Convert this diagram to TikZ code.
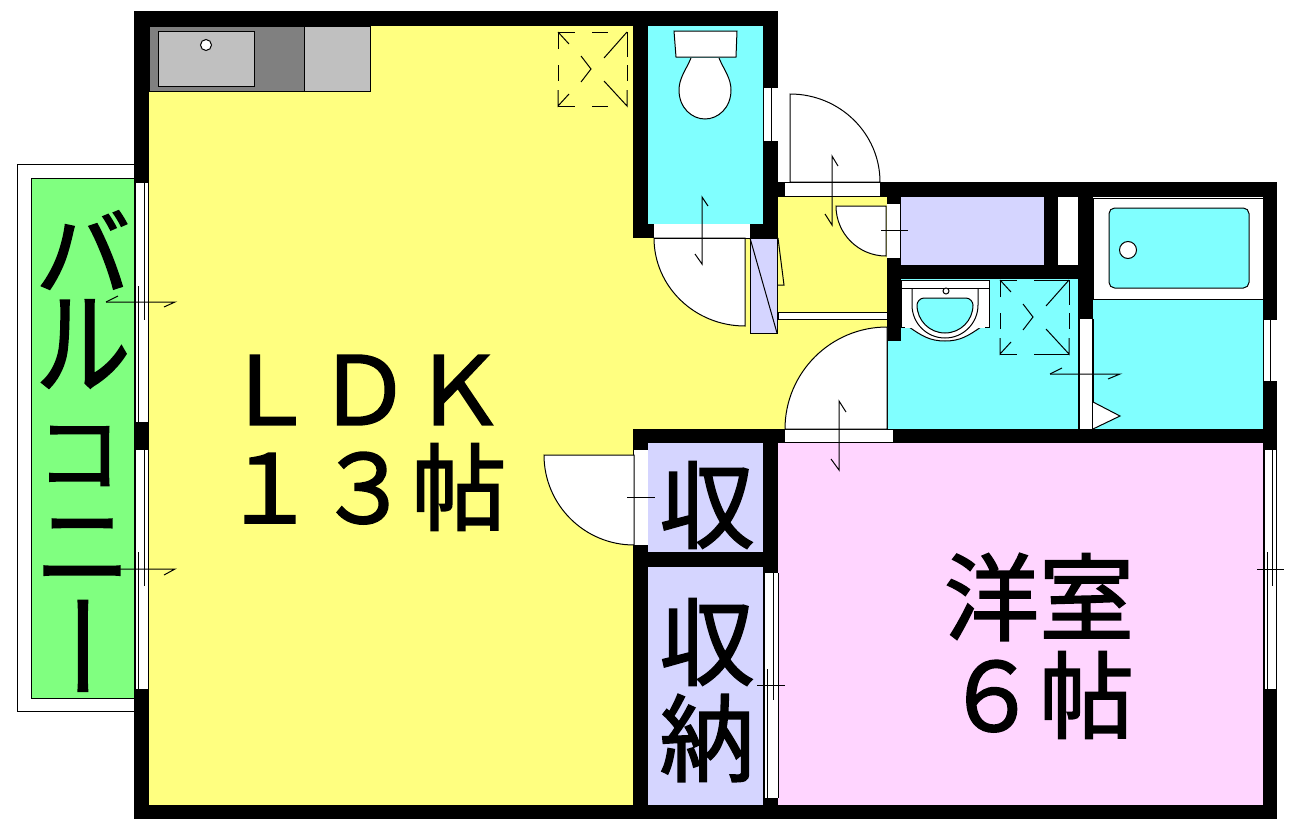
\documentclass[tikz,border=0pt]{standalone}
\usepackage{fontspec}
\newfontfamily\jpfont[FakeBold=1.8]{Noto Sans CJK JP}
\definecolor{ldkYellow}{HTML}{FFFF80}
\definecolor{wetCyan}{HTML}{80FFFF}
\definecolor{balconyGreen}{HTML}{80FF80}
\definecolor{closetBlue}{HTML}{D5D5FF}
\definecolor{roomPink}{HTML}{FFD5FF}
\definecolor{stoveDark}{HTML}{808080}
\definecolor{stoveLight}{HTML}{C0C0C0}
\tikzset{
    wall/.style={fill=black},
    opening/.style={fill=white},
    fixture/.style={draw=black, fill=white},
    roomText/.style={font=\jpfont\fontsize{135}{135}\selectfont, inner sep=0pt},
    vent/.pic={
        \draw (0,17) -- (0,0) -- (17,0);
        \draw (0,0) -- (11,12);
        \draw (34,0) -- (50,0);
        \draw (69,0) -- (69,25);
        \draw (69,0) -- (46,26);
        \draw (0,33) -- (0,49);
        \draw (69,33) -- (69,49);
        \draw (23,24) -- (33,37) -- (23,50);
        \draw (46,49) -- (69,74) -- (69,58);
        \draw (34,74) -- (50,74);
        \draw (0,58) -- (0,74) -- (11,62);
        \draw (0,74) -- (17,74);
    }
}

\begin{document}
\begin{tikzpicture}[x=0.05cm, y=-0.05cm, line width=0.05cm]
    \useasboundingbox (0,0) rectangle (1300,835);

    \draw[fill=white] (17,164) rectangle (134,711);
    \draw[fill=balconyGreen] (31,178) rectangle (134,698);

    \fill[ldkYellow] (149,26) rectangle (633,805);
    \fill[ldkYellow] (633,238) rectangle (887,429);
    \fill[ldkYellow] (778,197) rectangle (887,238);
    \fill[wetCyan] (648,26) rectangle (763,224);
    \fill[wetCyan] (887,279) rectangle (1078,429);
    \fill[wetCyan] (1093,299) rectangle (1263,429);
    \fill[closetBlue] (901,197) rectangle (1044,265);
    \fill[closetBlue] (648,443) rectangle (763,552);
    \fill[closetBlue] (648,567) rectangle (763,805);
    \fill[roomPink] (778,443) rectangle (1263,805);

    \fill[wall] (134,11) rectangle (778,26);
    \fill[wall] (134,11) rectangle (149,819);
    \fill[wall] (134,805) rectangle (1277,819);
    \fill[wall] (633,11) rectangle (648,238);
    \fill[wall] (763,11) rectangle (778,238);
    \fill[wall] (633,224) rectangle (778,238);
    \fill[wall] (778,182) rectangle (1277,197);
    \fill[wall] (1263,182) rectangle (1277,819);
    \fill[wall] (887,182) rectangle (901,341);
    \fill[wall] (1044,182) rectangle (1058,279);
    \fill[wall] (1078,182) rectangle (1093,429);
    \fill[wall] (887,265) rectangle (1093,279);
    \fill[wall] (633,429) rectangle (1277,443);
    \fill[wall] (633,429) rectangle (648,819);
    \fill[wall] (763,429) rectangle (778,819);
    \fill[wall] (633,552) rectangle (778,567);
    \fill[opening] (1058,197) rectangle (1078,265);

    % kitchen
    \draw[fill=stoveDark] (149,26) rectangle (304,91);
    \draw[fill=stoveLight] (304,26) rectangle (370,91);
    \fill[wall] (149,24) rectangle (370,26);
    \draw[fill=stoveLight] (158,31) rectangle (254,86);
    \draw[fill=white] (206,45) circle (5.5);
    \pic at (558,32) {vent};

    % windows
    \fill[opening] (135,183) rectangle (148,422);
    \draw (135,183) -- (135,422);
    \draw (144,183) -- (144,320);
    \draw (138,286) -- (138,422);
    \draw (148,183) -- (148,422);
    \draw (106,302) -- (118,296);
    \draw (106,302) -- (175,302) -- (164,307);
    \fill[opening] (135,450) rectangle (148,689);
    \draw (135,450) -- (135,689);
    \draw (144,450) -- (144,586);
    \draw (138,552) -- (138,689);
    \draw (148,450) -- (148,689);
    \draw (115,569) -- (175,569) -- (164,575);

    \fill[opening] (764,88) rectangle (778,141);
    \draw (771,88) -- (771,141);

    \fill[opening] (1264,320) rectangle (1277,381);
    \draw (1270,320) -- (1270,381);

    \fill[opening] (1264,450) rectangle (1277,689);
    \draw (1264,450) -- (1264,689);
    \draw (1276,450) -- (1276,689);
    \draw (1267,552) -- (1267,689);
    \draw (1272,450) -- (1272,586);
    \draw (1257,569) -- (1284,569);

    \fill[opening] (764,573) rectangle (778,798);
    \draw (764,573) -- (764,798);
    \draw (778,573) -- (778,798);
    \draw (767,669) -- (767,798);
    \draw (773,573) -- (773,700);
    \draw (757,685) -- (785,685);

    % toilet
    \draw[fixture] (691,58) .. controls (686,70) and (679,78) .. (679,90) .. controls (679,108) and (692,119) .. (705,119) .. controls (718,119) and (731,108) .. (731,90) .. controls (731,78) and (724,70) .. (719,58);
    \draw[fixture] (674,31) -- (737,31) -- (736,57) -- (676,57) -- cycle;

    \fill[opening] (654,224) rectangle (750,238);
    \draw[fixture] (745,238) -- (745,326) arc (90:180:91 and 88) -- cycle;
    \draw (654,238) -- (750,238);
    \draw (708,206) -- (702,197) -- (702,264) -- (695,254);

    % entrance
    \fill[opening] (785,182) rectangle (880,196);
    \draw (785,196) -- (880,196);
    \draw[fixture] (790,182) -- (790,94) arc (-90:0:90 and 88) -- cycle;
    \draw (785,182) -- (880,182);
    \draw (838,166) -- (832,156) -- (832,225) -- (825,214);
    \draw[fill=closetBlue] (750,238) rectangle (777,333);
    \draw (750,238) -- (777,333);
    \draw (778,238) -- (784,285) -- (778,285);
    \draw[fill=white] (778,312) rectangle (887,319);

    % closet by the entrance
    \fill[opening] (887,204) rectangle (900,258);
    \draw[fixture] (886,206) -- (836,206) arc (180:90:50) -- cycle;
    \draw (881,230) -- (908,230);

    % washroom
    \draw (887,341) -- (887,429);
    \draw[fixture] (901,280) rectangle (989,327);
    \draw (901,288) -- (989,288);
    \draw[fixture] (909,327) .. controls (922,336) and (930,341) .. (945,341) .. controls (960,341) and (968,336) .. (981,327);
    \fill[opening] (905,320) rectangle (985,327.5);
    \draw (912,288) -- (912,305) arc (180:0:33) -- (978,288);
    \draw[fill=wetCyan] (924,298) -- (966,298) .. controls (970,298) and (973,302) .. (973,305) arc (0:180:28) .. controls (917,302) and (920,298) .. (924,298) -- cycle;
    \draw[fill=white] (946,291) circle (3);
    \pic at (1000,280) {vent};
    \draw (1034,280) -- (1069,280);
    \draw (1034,354) -- (1069,354);
    \fill[opening] (1079,319) rectangle (1092,429);
    \draw (1079,319) -- (1079,429);
    \draw (1093,319) -- (1093,429);
    \draw (1050,374) -- (1062,368);
    \draw (1050,374) -- (1120,374) -- (1108,379);

    % bath
    \draw[fixture] (1093,198) rectangle (1263,299);
    \draw[fill=wetCyan, rounded corners=8] (1109,208) rectangle (1249,288);
    \draw[fill=white] (1128,250) circle (8.5);
    \draw[fixture] (1093,402) -- (1120,416) -- (1093,429);

    % room doors
    \fill[opening] (785,429) rectangle (893,442);
    \draw (785,429) -- (893,429);
    \draw (785,442) -- (893,442);
    \draw[fixture] (887,429) -- (785,429) arc (180:270:102) -- cycle;
    \draw (846,412) -- (839,401) -- (839,470) -- (831,459);
    \fill[opening] (634,450) rectangle (648,545);
    \draw[fixture] (634,455) -- (544,455) arc (180:90:90) -- cycle;
    \draw (627,497) -- (655,497);

    % labels
    \node[roomText] (ldk) at (364,390) {ＬＤＫ};
    \node[roomText, below of=ldk, yshift=-3.85cm] (ldkSize) {１３帖};
    \node[roomText] (room) at (1039,597) {洋室};
    \node[roomText, below of=room, yshift=-3.9cm] (roomSize) {６帖};
    \node[roomText] (shu) at (707,505) {収};
    \node[roomText] (closet) at (707,642) {収};
    \node[roomText, below of=closet, yshift=-3.8cm] (nou) {納};
    \node[roomText] (ba) at (83,250) {バ};
    \node[roomText, yscale=1.2, transform shape] (ru) at (83,344) {ル};
    \node[roomText, xscale=0.9, yscale=0.9, transform shape] (ko) at (79,456) {コ};
    \node[roomText] (ni) at (83,550) {ニ};
    \node[roomText, rotate=-90, xscale=1.2, transform shape] (bar) at (67,646) {ー};
\end{tikzpicture}
\end{document}
